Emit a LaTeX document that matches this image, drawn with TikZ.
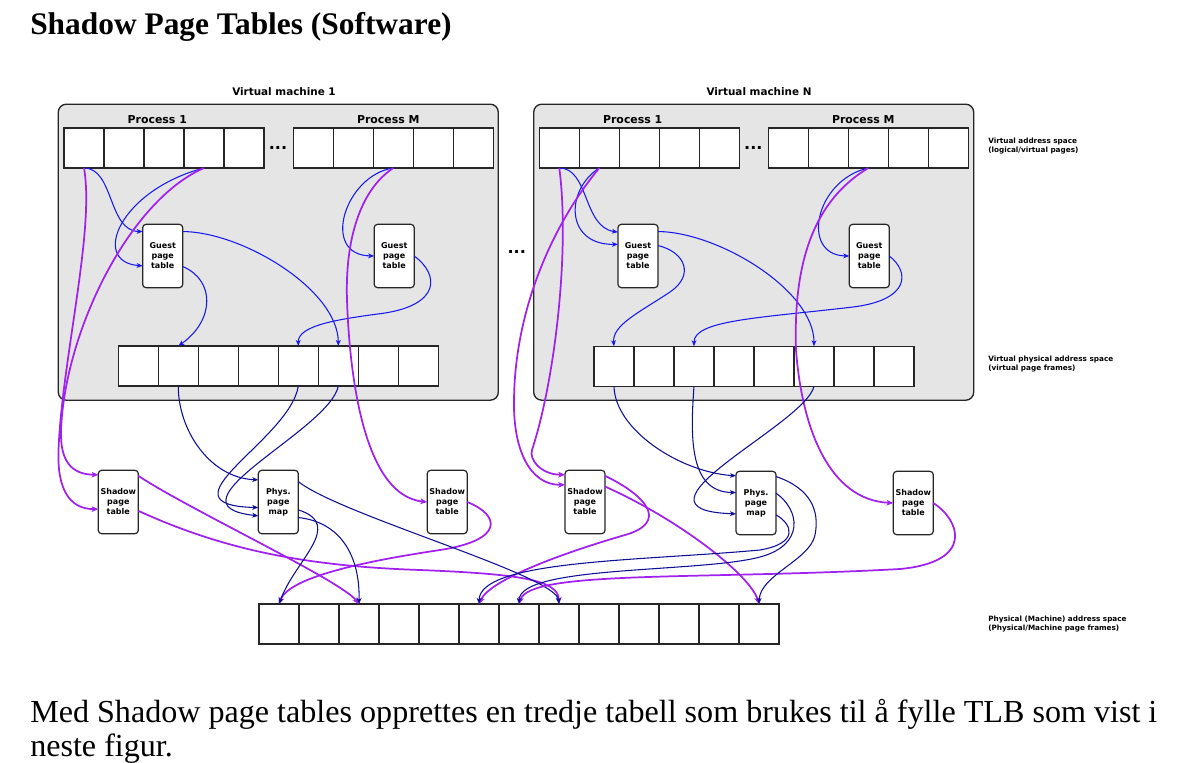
\documentclass[tikz,border=0pt]{standalone}
\usepackage{graphicx}
\usepackage{fontspec}
\setmainfont{Liberation Serif}
\newfontfamily\dv{DejaVu Sans}
\usetikzlibrary{arrows.meta,calc}
\definecolor{gblue}{RGB}{25,25,235}
\definecolor{dblue}{RGB}{15,15,150}
\definecolor{vio}{RGB}{160,32,240}
\definecolor{boxgray}{RGB}{229,229,229}
\newsavebox\lineonebox
\begin{document}
\sbox\lineonebox{\normalfont\fontsize{20}{24}\selectfont Med Shadow page tables opprettes en tredje tabell som brukes til å fylle TLB som vist i}%
\pgfmathsetmacro\bodyscale{845.25/\the\wd\lineonebox}%
\begin{tikzpicture}[x=0.75pt,y=-0.75pt,
  cell/.style={draw=black!85, line width=1pt, fill=white, minimum width=30pt, minimum height=30pt, inner sep=0pt, outer sep=0pt},
  tbl/.style={draw=black!85, line width=0.9pt, fill=white, rounded corners=2.5pt, minimum width=30pt, minimum height=47.5pt, inner sep=0pt, outer sep=0pt, align=center, font=\dv\bfseries\fontsize{6}{7.5}\selectfont},
  vmbox/.style={draw=black!85, line width=1pt, fill=boxgray, rounded corners=6pt, minimum width=330pt, minimum height=222pt, inner sep=0pt, outer sep=0pt},
  vmlbl/.style={font=\dv\bfseries\fontsize{7.8}{9}\selectfont, inner sep=0pt},
  plbl/.style={font=\dv\bfseries\fontsize{8.2}{9}\selectfont, inner sep=0pt},
  side/.style={font=\dv\bfseries\fontsize{5.45}{7.1}\selectfont, align=left, anchor=west, inner sep=0pt},
  dotslbl/.style={font=\dv\bfseries\fontsize{12}{12}\selectfont, inner sep=0pt},
  ga/.style={draw=gblue, line width=0.8pt, -{Stealth[length=4.5pt,width=3.6pt,inset=1.2pt]}},
  da/.style={draw=dblue, line width=0.8pt, -{Stealth[length=4.5pt,width=3.6pt,inset=1.2pt]}},
  pa/.style={draw=vio, line width=1.3pt, -{Stealth[length=5pt,width=4.2pt,inset=1.2pt]}}
]
\useasboundingbox (0,0) rectangle (1202,763);

% title and body text
\node[anchor=base west, inner sep=0pt] (title) at (30,35) {\resizebox{316pt}{!}{\bfseries Shadow Page Tables (Software)}};
\node[anchor=base west, inner sep=0pt] (body1) at (30,722) {\scalebox{\bodyscale}{\usebox\lineonebox}};
\node[anchor=base west, inner sep=0pt] (body2) at (30,756) {\scalebox{\bodyscale}{\fontsize{20}{24}\selectfont neste figur.}};

% virtual machine boxes
\node[vmbox] (vm1) at (278.3,252.2) {};
\node[vmbox] (vmN) at (753.7,252.2) {};
\node[vmlbl] (vm1l) at (284,92) {Virtual machine 1};
\node[vmlbl] (vmNl) at (759,92) {Virtual machine N};
\node[plbl] (m1p1l) at (157.3,120) {Process 1};
\node[plbl] (m1pMl) at (388.3,120) {Process M};
\node[plbl] (mNp1l) at (632.7,120) {Process 1};
\node[plbl] (mNpMl) at (863.3,120) {Process M};
\node[dotslbl] (dots1) at (278,148) {...};
\node[dotslbl] (dots2) at (753.3,148) {...};
\node[dotslbl] (dots3) at (516.7,252) {...};

% cells
\foreach \i in {1,...,5} {
  \node[cell] (m1pa\i) at (44+40*\i,148) {};
  \node[cell] (m1pb\i) at (273.3+40*\i,148) {};
  \node[cell] (mNpa\i) at (519.3+40*\i,148) {};
  \node[cell] (mNpb\i) at (748.3+40*\i,148) {};
}
\foreach \i in {1,...,8} {
  \node[cell] (m1f\i) at (98.3+40*\i,366) {};
  \node[cell] (mNf\i) at (574+40*\i,366.3) {};
}
\foreach \i in {1,...,13} {
  \node[cell] (ph\i) at (239+40*\i,624) {};
}

% tables
\node[tbl] (g1a) at (162.7,256) {Guest\\page\\table};
\node[tbl] (g1b) at (394.2,256) {Guest\\page\\table};
\node[tbl] (gNa) at (638,256) {Guest\\page\\table};
\node[tbl] (gNb) at (869.3,256) {Guest\\page\\table};
\node[tbl] (s1a) at (118.3,502) {Shadow\\page\\table};
\node[tbl] (pm1) at (278.3,502) {Phys.\\page\\map};
\node[tbl] (s1b) at (447.2,502) {Shadow\\page\\table};
\node[tbl] (sNa) at (585,502) {Shadow\\page\\table};
\node[tbl] (pmN) at (756,503) {Phys.\\page\\map};
\node[tbl] (sNb) at (913.3,503) {Shadow\\page\\table};

% side labels
\node[side] (lab1) at (988,146) {Virtual address space\\(logical/virtual pages)};
\node[side] (lab2) at (988,364) {Virtual physical address space\\(virtual page frames)};
\node[side] (lab3) at (988,624) {Physical (Machine) address space\\(Physical/Machine page frames)};

% ports
\coordinate (g1aL1) at ($(g1a.north west)+(0,7.2)$);
\coordinate (g1aL2) at ($(g1a.north west)+(0,41.5)$);
\coordinate (g1aR1) at ($(g1a.north east)+(0,7.2)$);
\coordinate (g1aR2) at ($(g1a.north east)+(0,42.2)$);
\coordinate (gNaL1) at ($(gNa.north west)+(0,7.8)$);
\coordinate (gNaL2) at ($(gNa.north west)+(0,20)$);
\coordinate (gNaR1) at ($(gNa.north east)+(0,7.2)$);
\coordinate (gNaR2) at ($(gNa.north east)+(0,21.2)$);
\coordinate (s1aL1) at ($(s1a.north west)+(0,4.5)$);
\coordinate (s1aL2) at ($(s1a.north west)+(0,38.8)$);
\coordinate (s1aR1) at ($(s1a.north east)+(0,5.5)$);
\coordinate (s1aR2) at ($(s1a.north east)+(0,40.5)$);
\coordinate (pm1L1) at ($(pm1.north west)+(0,9.5)$);
\coordinate (pm1L2) at ($(pm1.north west)+(0,37.2)$);
\coordinate (pm1L3) at ($(pm1.north west)+(0,45.5)$);
\coordinate (pm1R1) at ($(pm1.north east)+(0,11.2)$);
\coordinate (pm1R2) at ($(pm1.north east)+(0,39.5)$);
\coordinate (pm1R3) at ($(pm1.north east)+(0,47.2)$);
\coordinate (sNaL1) at ($(sNa.north west)+(0,4.5)$);
\coordinate (sNaL2) at ($(sNa.north west)+(0,14.5)$);
\coordinate (sNaR1) at ($(sNa.north east)+(0,5.5)$);
\coordinate (sNaR2) at ($(sNa.north east)+(0,16.2)$);
\coordinate (pmNL1) at ($(pmN.north west)+(0,4.5)$);
\coordinate (pmNL2) at ($(pmN.north west)+(0,21.2)$);
\coordinate (pmNL3) at ($(pmN.north west)+(0,42.5)$);
\coordinate (pmNR1) at ($(pmN.north east)+(0,5.2)$);
\coordinate (pmNR2) at ($(pmN.north east)+(0,21.8)$);
\coordinate (pmNR3) at ($(pmN.north east)+(0,43.5)$);

% ---- VM 1 guest arrows
\draw[ga] (m1pa1.south) .. controls (114,168) and (108,231) .. (g1aL1);
\draw[ga] (m1pa4.south) .. controls (120,190) and (90,262) .. (g1aL2);
\draw[ga] (g1aR1) .. controls (243,232) and (338,290) .. (m1f6.north);
\draw[ga] (g1aR2) .. controls (215,280) and (215,320) .. (m1f2.north);
\draw[ga] (m1pb3.south) .. controls (345,175) and (320,255) .. (g1b.west);
\draw[ga] (g1b.east) .. controls (440,275) and (440,305) .. (383,313.3) .. controls (340,319) and (298,325) .. (m1f5.north);
% ---- VM 1 shadow arrows
\draw[pa] (m1pa4.south) .. controls (130,200) and (65,330) .. (61,430) .. controls (60,462) and (72,474.3) .. (s1aL1);
\draw[pa] (m1pa1.south) .. controls (95,230) and (62,360) .. (58.5,450) .. controls (57,490) and (70,509) .. (s1aL2);
\draw[pa] (m1pb3.south) .. controls (360,190) and (345,240) .. (347,300) .. controls (349,360) and (360,495) .. (s1b.west);
\draw[pa] (s1aR1) .. controls (190,510) and (340,580) .. (ph3.north);
\draw[pa] (s1aR2) .. controls (220,548) and (300,566) .. (420,570) .. controls (520,574) and (558,580) .. (ph8.north);
\draw[pa] (s1b.east) .. controls (500,515) and (505,540) .. (440,550) .. controls (380,559) and (290,575) .. (ph1.north);
% ---- VM 1 phys map arrows
\draw[da] (m1f2.south) .. controls (178,430) and (210,478) .. (pm1L1);
\draw[da] (m1f5.south) .. controls (290,440) and (155,505) .. (pm1L2);
\draw[da] (m1f6.south) .. controls (330,430) and (160,505) .. (pm1L3);
\draw[da] (pm1R1) .. controls (340,515) and (556,575) .. (ph8.north);
\draw[da] (pm1R2) .. controls (345,525) and (295,560) .. (ph1.north);
\draw[da] (pm1R3) .. controls (340,522) and (360,555) .. (ph3.north);

% ---- VM N guest arrows
\draw[ga] (mNpa1.south) .. controls (589,168) and (583,227) .. (gNaL1);
\draw[ga] (mNpa2.south) .. controls (565,190) and (565,245) .. (gNaL2);
\draw[ga] (gNaR1) .. controls (718,232) and (814,290) .. (mNf6.north);
\draw[ga] (gNaR2) .. controls (685,252) and (695,275) .. (670,292) .. controls (640,312) and (612,325) .. (mNf1.north);
\draw[ga] (mNpb3.south) .. controls (815,180) and (800,255) .. (gNb.west);
\draw[ga] (gNb.east) .. controls (910,272) and (910,300) .. (853,307) .. controls (760,318) and (694,320) .. (mNf3.north);
% ---- VM N shadow arrows
\draw[pa] (mNpa1.south) .. controls (570,250) and (555,380) .. (532,450) .. controls (529,459) and (540,474.3) .. (sNaL1);
\draw[pa] (mNpa2.south) .. controls (560,215) and (515,300) .. (514,400) .. controls (513,450) and (530,485) .. (sNaL2);
\draw[pa] (mNpb3.south) .. controls (815,200) and (793,260) .. (796,350) .. controls (802,430) and (830,500) .. (sNb.west);
\draw[pa] (sNaR1) .. controls (645,495) and (670,522) .. (625,535) .. controls (560,553.8) and (490,580) .. (ph6.north);
\draw[pa] (sNaR2) .. controls (680,520) and (750,575) .. (ph13.north);
\draw[pa] (sNb.east) .. controls (960,520) and (975,562) .. (900,569) .. controls (700,580) and (530,570) .. (ph7.north);
% ---- VM N phys map arrows
\draw[da] (mNf1.south) .. controls (615,430) and (680,472) .. (pmNL1);
\draw[da] (mNf3.south) .. controls (690,440) and (690,492) .. (pmNL2);
\draw[da] (mNf6.south) .. controls (805,425) and (615,510) .. (pmNL3);
\draw[da] (pmNR1) .. controls (810,488) and (820,510) .. (815,535) .. controls (810,560) and (760,575) .. (ph13.north);
\draw[da] (pmNR2) .. controls (800,510) and (805,545) .. (760,557) .. controls (700,573) and (520,565) .. (ph7.north);
\draw[da] (pmNR3) .. controls (792,524) and (800,543) .. (760,550) .. controls (640,561) and (480,560) .. (ph6.north);
\end{tikzpicture}
\end{document}
